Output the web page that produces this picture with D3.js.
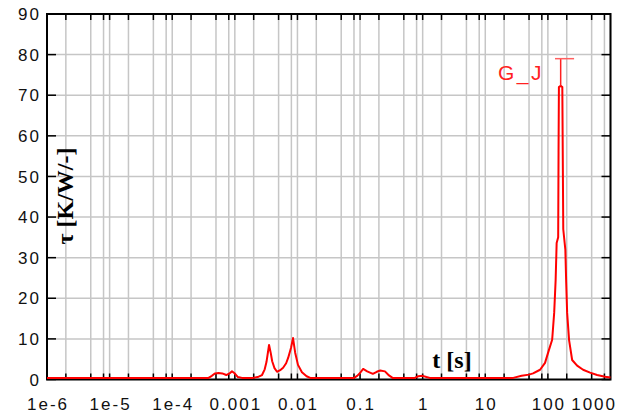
<!DOCTYPE html>
<html>
<head>
<meta charset="utf-8">
<script src="https://cdn.jsdelivr.net/npm/d3@7"></script>
<style>
  html, body { margin: 0; padding: 0; background: #fff; }
  svg { display: block; }
</style>
</head>
<body>
<svg id="chart" width="626" height="416"></svg>
<script>
// ---- data ----
const tValues = [
  1e-6, 3.8e-4, 4.3e-4, 4.8e-4, 5.5e-4, 6.3e-4, 7.3e-4, 8.2e-4, 9.0e-4, 9.8e-4,
  1.12e-3, 1.3e-3, 1.95e-3, 2.4e-3, 2.72e-3, 3.0e-3, 3.2e-3, 3.52e-3, 3.75e-3, 3.95e-3,
  4.3e-3, 4.72e-3, 5.3e-3, 5.9e-3, 6.6e-3, 7.1e-3, 7.9e-3, 8.5e-3, 9.2e-3, 1.02e-2,
  1.18e-2, 1.4e-2, 1.6e-2, 8.0e-2, 9.0e-2, 0.1, 0.112, 0.13, 0.16, 0.185,
  0.21, 0.25, 0.29, 0.33, 0.75, 0.85, 1.0, 1.15, 1.3, 28,
  38, 50, 58, 75, 90, 104, 117, 126, 133, 138,
  146, 148, 150, 160, 170, 176, 190, 196, 203, 218,
  244, 293, 365, 472, 611, 820, 1000
];
const tauValues = [
  0.4, 0.4, 0.9, 1.5, 1.6, 1.5, 1.1, 1.5, 2.0, 1.6,
  0.6, 0.4, 0.4, 0.7, 1.1, 2.5, 4.3, 8.5, 6.5, 4.5,
  2.8, 1.9, 2.3, 2.9, 4.0, 5.3, 7.8, 10.2, 6.6, 3.6,
  1.8, 0.8, 0.4, 0.4, 0.9, 1.6, 2.6, 2.0, 1.4, 1.9,
  2.2, 2.0, 1.0, 0.4, 0.4, 0.8, 0.9, 0.6, 0.4, 0.4,
  0.9, 1.2, 1.5, 2.4, 4.1, 7.3, 9.8, 16.4, 24.5, 33.6,
  35, 56, 72, 72.3, 72, 37, 32, 24, 16.4, 9.7,
  4.8, 3.4, 2.4, 1.7, 1.1, 0.7, 0.5
];
const seriesName = "G_J";
// peak marker ("T" cursor) values
const markerT = 160;
const markerTop = 79;
const markerBase = 72.3;
const markerCap = [130, 262];

const xTickValues = [1e-6, 1e-5, 1e-4, 1e-3, 1e-2, 0.1, 1, 10, 100, 1000];
const xTickLabels = ["1e-6", "1e-5", "1e-4", "0.001", "0.01", "0.1", "1", "10", "100", "1000"];
const xGridMultipliers = [2, 5, 8, 10];
const yTickValues = [0, 10, 20, 30, 40, 50, 60, 70, 80, 90];
const xTitle = "t [s]";
const yTitle = "\u03C4 [K/W/-]";

// ---- layout ----
const L = 47, R = 610.5, T = 14, B = 379.5;
const svg = d3.select("#chart");
const x = d3.scaleLog().domain([1e-6, 1000]).range([L, R]);
const y = d3.scaleLinear().domain([0, 90]).range([B, T]);

// grid positions
const xGrid = [];
for (let e = -6; e < 3; e++) {
  xGridMultipliers.forEach(m => xGrid.push(m * Math.pow(10, e)));
}
const gridColor = "#c6c6c6";

svg.append("g").selectAll("line").data(xGrid).join("line")
  .attr("x1", d => x(d)).attr("x2", d => x(d))
  .attr("y1", T).attr("y2", B)
  .attr("stroke", gridColor).attr("stroke-width", 1.5);

svg.append("g").selectAll("line").data(yTickValues.slice(1, -1)).join("line")
  .attr("x1", L).attr("x2", R)
  .attr("y1", d => y(d)).attr("y2", d => y(d))
  .attr("stroke", gridColor).attr("stroke-width", 1.5);

// ticks on frame
const tickG = svg.append("g").attr("stroke", "#000").attr("stroke-width", 1.5);
tickG.selectAll(".tt").data(xGrid.filter(d => d < 999)).join("line")
  .attr("x1", d => x(d)).attr("x2", d => x(d)).attr("y1", T).attr("y2", T + 6);
tickG.selectAll(".tb").data(xGrid.filter(d => d < 999)).join("line")
  .attr("x1", d => x(d)).attr("x2", d => x(d)).attr("y1", B - 6).attr("y2", B);
tickG.selectAll(".yl").data(yTickValues).join("line")
  .attr("x1", L).attr("x2", L + 9).attr("y1", d => y(d)).attr("y2", d => y(d));
tickG.selectAll(".yr").data(yTickValues).join("line")
  .attr("x1", R - 9).attr("x2", R).attr("y1", d => y(d)).attr("y2", d => y(d));

// frame
svg.append("rect").attr("x", L).attr("y", T).attr("width", R - L).attr("height", B - T)
  .attr("fill", "none").attr("stroke", "#000").attr("stroke-width", 2);

// axis labels
const labelFont = "'Liberation Sans', Arial, sans-serif";
svg.append("g").selectAll("text").data(yTickValues).join("text")
  .attr("x", 41).attr("y", d => y(d)).attr("dy", "0.36em")
  .attr("text-anchor", "end")
  .attr("font-family", labelFont).attr("font-size", 17).attr("letter-spacing", 2)
  .attr("fill", "#111")
  .text(d => d);

svg.append("g").selectAll("text").data(xTickValues).join("text")
  .attr("x", (d, i) => i === xTickValues.length - 1 ? 617 : x(d) + 1)
  .attr("y", 410)
  .attr("text-anchor", (d, i) => i === xTickValues.length - 1 ? "end" : "middle")
  .attr("font-family", labelFont).attr("font-size", 17).attr("letter-spacing", 2)
  .attr("fill", "#111")
  .text((d, i) => xTickLabels[i]);

// titles
svg.append("text").attr("x", 452).attr("y", 368).attr("text-anchor", "middle")
  .attr("font-family", "'Liberation Serif', 'Times New Roman', serif")
  .attr("font-weight", "bold").attr("font-size", 24).attr("fill", "#000")
  .text(xTitle);

svg.append("text")
  .attr("transform", "translate(73,196) rotate(-90)")
  .attr("text-anchor", "middle")
  .attr("font-family", "'Liberation Serif', 'Times New Roman', serif")
  .attr("font-weight", "bold").attr("font-size", 24).attr("fill", "#000")
  .text(yTitle);

// series line
const pts = tValues.map((t, i) => [t, tauValues[i]]);
const line = d3.line().x(d => x(d[0])).y(d => y(d[1]));
svg.append("path").datum(pts)
  .attr("d", line)
  .attr("fill", "none").attr("stroke", "#ff0000").attr("stroke-width", 2)
  .attr("stroke-linejoin", "round");

// peak marker
const mk = svg.append("g").attr("stroke", "#ff2020").attr("stroke-width", 1.5);
mk.append("line").attr("x1", x(markerT)).attr("x2", x(markerT))
  .attr("y1", y(markerTop)).attr("y2", y(markerBase));
mk.append("line").attr("x1", x(markerCap[0])).attr("x2", x(markerCap[1]))
  .attr("y1", y(markerTop)).attr("y2", y(markerTop)).attr("stroke", "#ff6060");

svg.append("text").attr("x", 498).attr("y", 80)
  .attr("font-family", labelFont).attr("font-size", 21).attr("letter-spacing", 2.5)
  .attr("fill", "#ff2020")
  .text(seriesName);
</script>
</body>
</html>
